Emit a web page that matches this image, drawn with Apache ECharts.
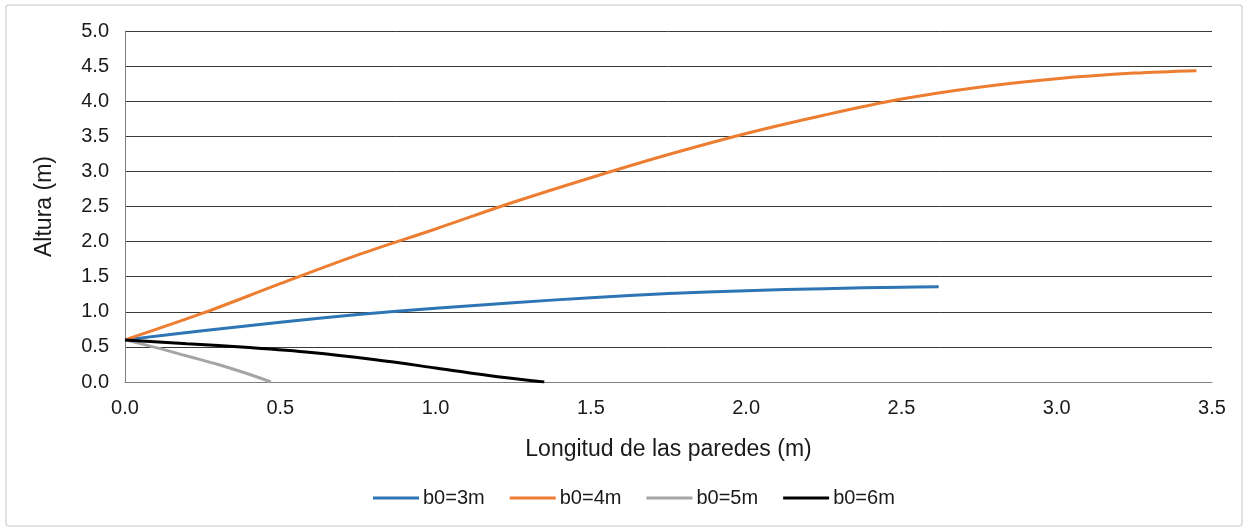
<!DOCTYPE html>
<html><head><meta charset="utf-8">
<script src="https://cdn.jsdelivr.net/npm/echarts@6/dist/echarts.min.js"></script>
<style>html,body{margin:0;padding:0;background:#fff}#c{width:1249px;height:529px}</style>
</head><body><div id="c"></div>
<script>
const seriesNames = ['b0=3m', 'b0=4m', 'b0=5m', 'b0=6m'];
const b3x = [0, 0.25, 0.5, 0.75, 1.0, 1.25, 1.5, 1.75, 2.0, 2.25, 2.5, 2.62];
const b3y = [0.6, 0.73, 0.85, 0.96, 1.05, 1.13, 1.20, 1.26, 1.30, 1.33, 1.35, 1.357];
const b4x = [0, 0.25, 0.5, 0.75, 1.0, 1.25, 1.5, 1.75, 2.0, 2.25, 2.5, 2.75, 3.0, 3.25, 3.45];
const b4y = [0.6, 0.98, 1.40, 1.81, 2.18, 2.56, 2.91, 3.24, 3.54, 3.80, 4.03, 4.20, 4.32, 4.40, 4.435];
const b5x = [0, 0.1, 0.2, 0.3, 0.4, 0.47];
const b5y = [0.6, 0.49, 0.37, 0.25, 0.11, 0.0];
const b6x = [0, 0.2, 0.4, 0.6, 0.8, 1.0, 1.2, 1.35];
const b6y = [0.6, 0.545, 0.49, 0.42, 0.32, 0.2, 0.075, 0.0];
const colors = ['#2E75B6', '#ED7D31', '#A5A5A5', '#000000'];
const xTitle = 'Longitud de las paredes (m)';
const yTitle = 'Altura (m)';

const pairs = (xs, ys) => xs.map((x, i) => [x, ys[i]]);
const all = [[b3x, b3y], [b4x, b4y], [b5x, b5y], [b6x, b6y]];
const font = 'Liberation Sans, Arial, sans-serif';
const txt = '#1a1a1a';
const chart = echarts.init(document.getElementById('c'));
chart.setOption({
  animation: false,
  textStyle: { fontFamily: font },
  graphic: [{ type: 'rect', shape: { x: 6, y: 5, width: 1236, height: 521, r: 3 }, style: { fill: 'none', stroke: '#D9D9D9', lineWidth: 1.5 }, z: -1 }],
  grid: { left: 125, right: 37, top: 31, bottom: 147 },
  legend: {
    top: 483, left: 368, itemGap: 25, itemWidth: 46, itemHeight: 3, icon: 'rect',
    textStyle: { fontSize: 20, color: txt, fontFamily: font, padding: [0, 0, 0, -1] },
    data: seriesNames
  },
  xAxis: {
    type: 'value', min: 0, max: 3.5, interval: 0.5,
    name: xTitle, nameLocation: 'middle', nameGap: 56,
    nameTextStyle: { fontSize: 23, color: txt, fontFamily: font },
    axisLine: { show: true, lineStyle: { color: '#808080', width: 1 } },
    axisTick: { show: false },
    splitLine: { show: false },
    axisLabel: { fontSize: 20, color: txt, margin: 16, formatter: v => v.toFixed(1) }
  },
  yAxis: {
    type: 'value', min: 0, max: 5, interval: 0.5,
    name: yTitle, nameLocation: 'middle', nameGap: 69,
    nameTextStyle: { fontSize: 23, color: txt, fontFamily: font },
    axisLine: { show: true, lineStyle: { color: '#808080', width: 1 } },
    axisTick: { show: false },
    splitLine: { show: true, lineStyle: { color: '#3a3a3a', width: 1 } },
    axisLabel: { fontSize: 20, color: txt, margin: 16, formatter: v => v.toFixed(1) }
  },
  series: all.map((d, i) => ({
    name: seriesNames[i], type: 'line', smooth: 0.35, showSymbol: false,
    data: pairs(d[0], d[1]),
    itemStyle: { color: colors[i] },
    lineStyle: { color: colors[i], width: 3 }
  }))
});
</script></body></html>
